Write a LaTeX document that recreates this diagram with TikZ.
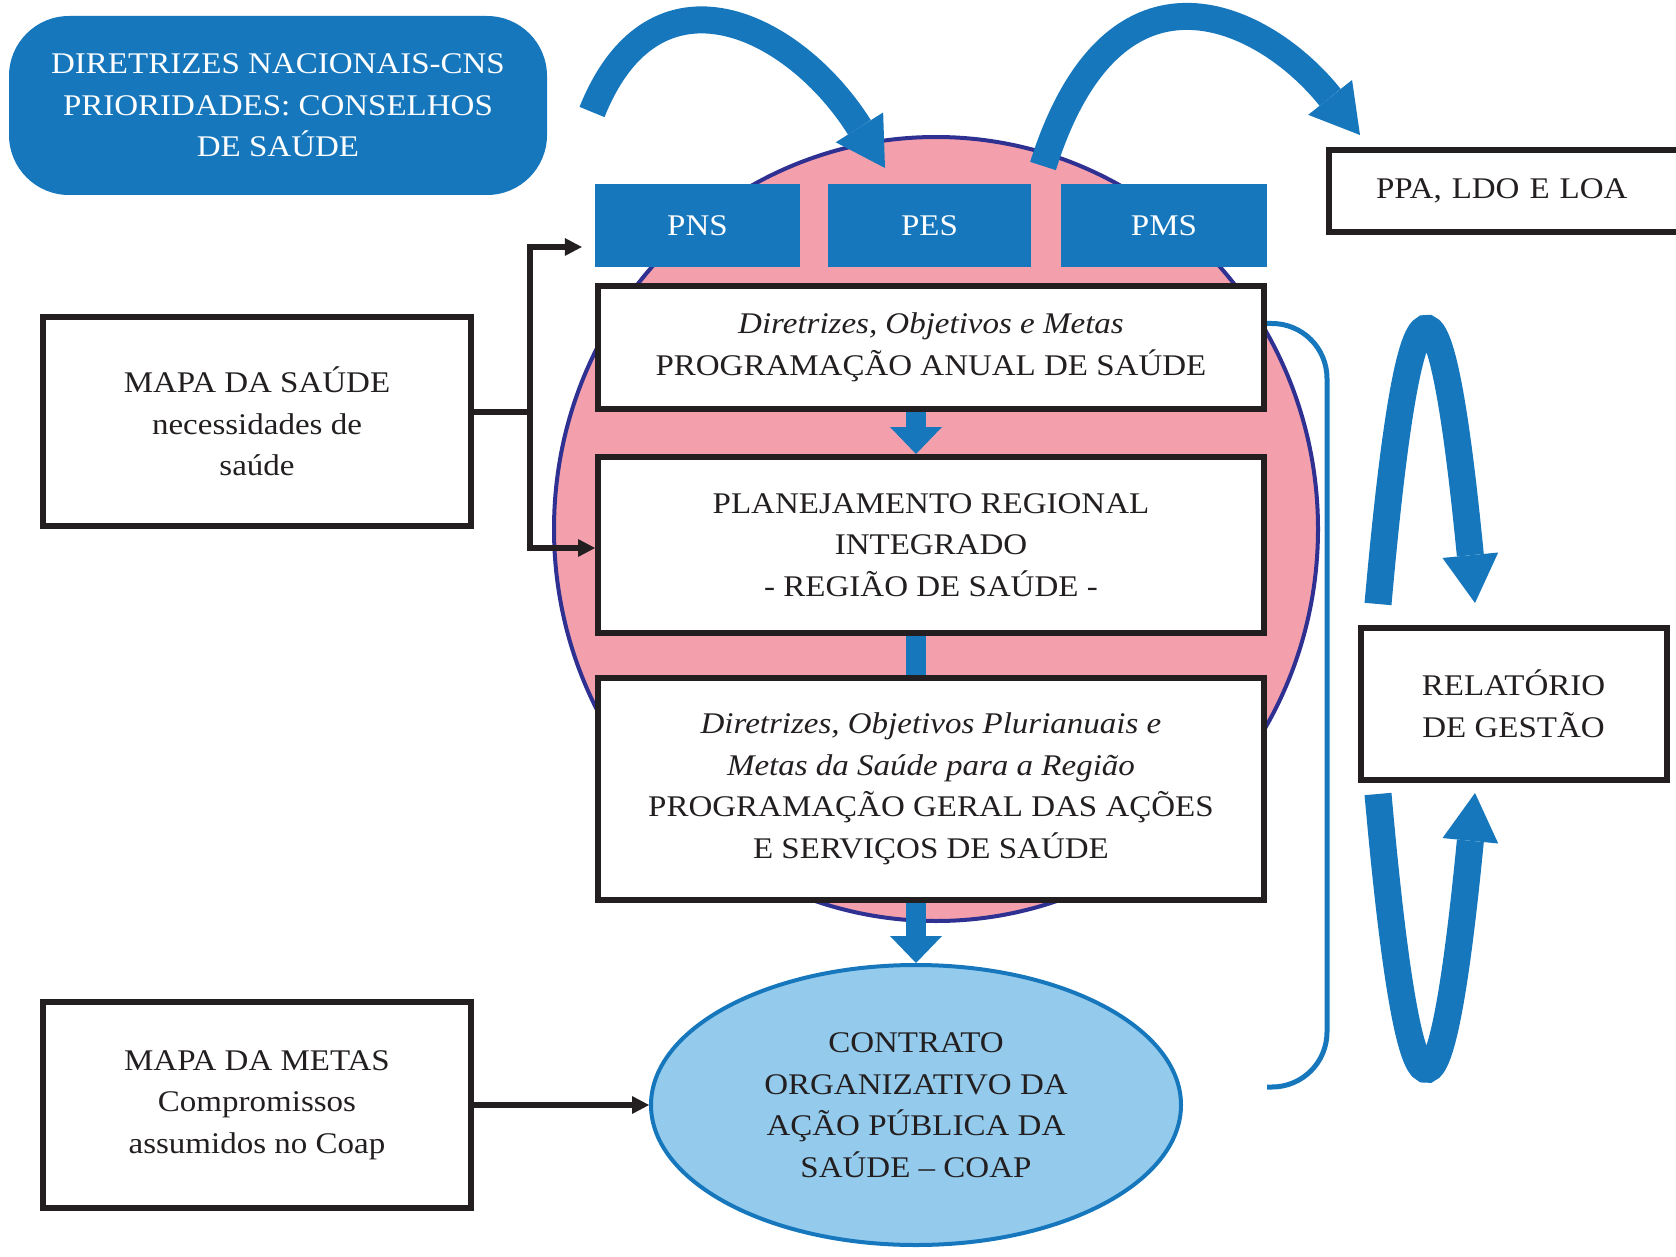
\documentclass[tikz,border=0pt]{standalone}
\usepackage{fontspec}
\setmainfont[FakeStretch=1.1]{Liberation Serif}
\usetikzlibrary{arrows.meta,shapes.geometric,calc}
\definecolor{planblue}{RGB}{22,119,189}
\definecolor{cyclepink}{RGB}{244,160,172}
\definecolor{cyclerim}{RGB}{46,49,146}
\definecolor{contractfill}{RGB}{148,203,236}
\definecolor{ink}{RGB}{35,31,32}
\begin{document}
\begin{tikzpicture}[x=1pt,y=-1pt,
  every node/.style={font=\fontsize{30}{41.5}\selectfont, align=center, inner sep=0pt},
  framebox/.style={draw=ink, line width=6pt, fill=white, text=ink},
  planbox/.style={fill=planblue, text=white, minimum height=83pt},
  conn/.style={draw=ink, line width=6pt, line join=miter},
  linktip/.tip={Triangle[width=18pt,length=17pt,line width=0pt]},
  bigtip/.tip={Triangle[width=56pt,length=48pt,line width=0pt]},
  flowtip/.tip={Triangle[width=52pt,length=27pt,line width=0pt]},
  bigarrow/.style={draw=planblue, line width=27pt, -bigtip},
  flowarrow/.style={draw=planblue, line width=20pt, -flowtip},
  bracket/.style={draw=planblue, line width=5pt, rounded corners=55pt},
]
\useasboundingbox (0,0) rectangle (1676,1257);

% planning cycle disc
\filldraw[fill=cyclepink, draw=cyclerim, line width=4pt] (936,529) ellipse [x radius=382pt, y radius=392pt];

% national guidelines
\node[fill=planblue, text=white, rounded corners=60pt, minimum width=538pt, minimum height=179pt]
  (dn) at (278,105.5) {DIRETRIZES NACIONAIS-CNS\\PRIORIDADES: CONSELHOS\\DE SAÚDE};

% health plans
\node[planbox, minimum width=205pt] (pns) at (697.5,225.5) {PNS};
\node[planbox, minimum width=203pt] (pes) at (929.5,225.5) {PES};
\node[planbox, minimum width=206pt] (pms) at (1164,225.5) {PMS};

% central column
\node[framebox, minimum width=666pt, minimum height=123pt] (pas) at (931,347.5)
  {\textit{Diretrizes, Objetivos e Metas}\\PROGRAMAÇÃO ANUAL DE SAÚDE};
\node[framebox, minimum width=666pt, minimum height=176pt] (pri) at (931,545)
  {PLANEJAMENTO REGIONAL\\INTEGRADO\\- REGIÃO DE SAÚDE -};
\node[framebox, minimum width=666pt, minimum height=222pt] (pgas) at (931,789)
  {\textit{Diretrizes, Objetivos Plurianuais e}\\\textit{Metas da Saúde para a Região}\\PROGRAMAÇÃO GERAL DAS AÇÕES\\E SERVIÇOS DE SAÚDE};

\node[ellipse, draw=planblue, line width=4pt, fill=contractfill, text=ink,
  minimum width=530pt, minimum height=280pt] (coap) at (916,1105)
  {CONTRATO\\ORGANIZATIVO DA\\AÇÃO PÚBLICA DA\\SAÚDE – COAP};

% left-hand maps
\node[framebox, minimum width=428pt, minimum height=209pt] (ms) at (257,421.5)
  {MAPA DA SAÚDE\\necessidades de\\saúde};
\node[framebox, minimum width=428pt, minimum height=206pt] (mm) at (257,1105)
  {MAPA DA METAS\\Compromissos\\assumidos no Coap};

% right-hand boxes
\node[framebox, anchor=west, minimum height=82pt, text width=374pt, align=left] (ppa) at (1326,191)
  {\hspace*{47pt}PPA, LDO E LOA};
\node[framebox, minimum width=306pt, minimum height=152pt] (rel) at (1513.5,704)
  {RELATÓRIO\\DE GESTÃO};

% flow down the column
\coordinate (axis) at (916,0);
\draw[flowarrow] (pas.south -| axis) -- (pri.north -| axis);
\draw[draw=planblue, line width=20pt] (pri.south -| axis) -- (pgas.north -| axis);
\draw[flowarrow] (pgas.south -| axis) -- (coap.north);

% bracket from the annual programme to the contract
\coordinate (brS) at ($(pas.east)+(0,-24)$);
\coordinate (brE) at (1267,1087);
\draw[bracket] (brS) -- (1327,323.5) -- (1327,1087) -- (brE);

% black connectors
\coordinate (jt) at (530,247);
\coordinate (jb) at (530,548);
\coordinate (msout) at ($(ms.east)+(0,-10)$);
\draw[conn, linktip-linktip, shorten <=13pt] (jt -| pns.west) -- (jt) -- (jb) -- (jb -| pri.west);
\draw[conn] (msout) -- (msout -| jt);
\draw[conn, -linktip] (mm.east) -- (coap.west);

% curved arrows
\draw[bigarrow] (592,112) .. controls (655,-45) and (795,25) .. (885,168);
\draw[bigarrow] (1043,166) .. controls (1115,-62) and (1267,18) .. (1360,135);
\draw[bigarrow] (1378,604) .. controls (1410,245) and (1440,245) .. (1475,603);
\draw[bigarrow] (1378,794) .. controls (1410,1153) and (1440,1153) .. (1475,793);
\end{tikzpicture}
\end{document}
